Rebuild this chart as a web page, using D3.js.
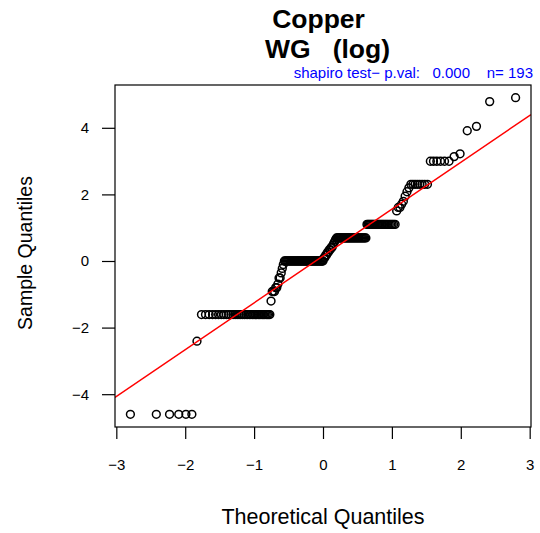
<!DOCTYPE html>
<html>
<head>
<meta charset="utf-8">
<script src="https://cdn.jsdelivr.net/npm/d3@7"></script>
<style>
  html, body { margin: 0; padding: 0; background: #fff; }
  svg { display: block; font-family: "Liberation Sans", Arial, Helvetica, sans-serif; }
  text { white-space: pre; }
</style>
</head>
<body>
<svg id="chart" width="540" height="533"></svg>
<script>
// ---- Data ----
const titleLines = ["Copper", "WG   (log)"];
const subtitle = "shapiro test\u2212 p.val:   0.000    n= 193";
const xLabel = "Theoretical Quantiles";
const yLabel = "Sample Quantiles";
const xTickValues = [-3, -2, -1, 0, 1, 2, 3];
const yTickValues = [-4, -2, 0, 2, 4];
// distinct sample values (log scale) and how many observations sit at each
const sampleLevels = [-4.605, -2.408, -1.609, -1.204, -0.916, -0.799, -0.693, -0.511, -0.357, -0.223, -0.105,
  0, 0.095, 0.182, 0.262, 0.336, 0.405, 0.470, 0.531, 0.588, 0.642, 0.693, 1.099,
  1.504, 1.609, 1.705, 1.792, 1.946, 2.079, 2.197, 2.303, 2.996, 3.135, 3.219, 3.912, 4.043, 4.787, 4.905];
const sampleCounts = [6, 1, 36, 1, 3, 2, 1, 2, 1, 1, 1,
  42, 2, 2, 2, 2, 2, 1, 1, 1, 1, 31, 23,
  1, 2, 1, 1, 1, 1, 1, 8, 6, 1, 1, 1, 1, 1, 1];

// ---- helpers ----
function qnorm(p) {
  const a = [-3.969683028665376e+01, 2.209460984245205e+02, -2.759285104469687e+02, 1.383577518672690e+02, -3.066479806614716e+01, 2.506628277459239e+00];
  const b = [-5.447609879822406e+01, 1.615858368580409e+02, -1.556989798598866e+02, 6.680131188771972e+01, -1.328068155288572e+01];
  const c = [-7.784894002430293e-03, -3.223964580411365e-01, -2.400758277161838e+00, -2.549732539343734e+00, 4.374664141464968e+00, 2.938163982698783e+00];
  const d = [7.784695709041462e-03, 3.224671290700398e-01, 2.445134137142996e+00, 3.754408661907416e+00];
  const pl = 0.02425, ph = 1 - pl;
  let q, r;
  if (p < pl) {
    q = Math.sqrt(-2 * Math.log(p));
    return (((((c[0]*q+c[1])*q+c[2])*q+c[3])*q+c[4])*q+c[5]) / ((((d[0]*q+d[1])*q+d[2])*q+d[3])*q+1);
  } else if (p <= ph) {
    q = p - 0.5; r = q * q;
    return (((((a[0]*r+a[1])*r+a[2])*r+a[3])*r+a[4])*r+a[5])*q / (((((b[0]*r+b[1])*r+b[2])*r+b[3])*r+b[4])*r+1);
  } else {
    q = Math.sqrt(-2 * Math.log(1 - p));
    return -(((((c[0]*q+c[1])*q+c[2])*q+c[3])*q+c[4])*q+c[5]) / ((((d[0]*q+d[1])*q+d[2])*q+d[3])*q+1);
  }
}

const sample = [];
sampleLevels.forEach((v, i) => { for (let k = 0; k < sampleCounts[i]; k++) sample.push(v); });
sample.sort((a, b) => a - b);
const n = sample.length;
// theoretical quantiles: qnorm(ppoints(n)), a = 0.5 for n > 10
const points = sample.map((y, i) => ({ x: qnorm((i + 1 - 0.5) / n), y }));

// ---- layout ----
const box = { left: 115, right: 531, top: 85, bottom: 427 };
const svg = d3.select("#chart");

function rExtend(ext) { const d = (ext[1] - ext[0]) * 0.04; return [ext[0] - d, ext[1] + d]; }
const x = d3.scaleLinear().domain(rExtend(d3.extent(points, p => p.x))).range([box.left, box.right]);
const y = d3.scaleLinear().domain(rExtend(d3.extent(points, p => p.y))).range([box.bottom, box.top]);

const fmt = v => (v < 0 ? "\u2212" + Math.abs(v) : String(v));

// clip
svg.append("defs").append("clipPath").attr("id", "clip")
  .append("rect").attr("x", box.left).attr("y", box.top)
  .attr("width", box.right - box.left).attr("height", box.bottom - box.top);

// points
svg.append("g").selectAll("circle").data(points).join("circle")
  .attr("cx", d => x(d.x)).attr("cy", d => y(d.y)).attr("r", 3.9)
  .attr("fill", "none").attr("stroke", "#000").attr("stroke-width", 1.5);

// qqline (R: through the quartiles)
const yq = [d3.quantile(sample, 0.25), d3.quantile(sample, 0.75)];
const xq = [qnorm(0.25), qnorm(0.75)];
const slope = (yq[1] - yq[0]) / (xq[1] - xq[0]);
const intercept = yq[0] - slope * xq[0];
const xd = x.domain();
svg.append("line").attr("clip-path", "url(#clip)")
  .attr("x1", x(xd[0])).attr("y1", y(intercept + slope * xd[0]))
  .attr("x2", x(xd[1])).attr("y2", y(intercept + slope * xd[1]))
  .attr("stroke", "#ff0000").attr("stroke-width", 1.5);

// box
svg.append("rect").attr("x", box.left).attr("y", box.top)
  .attr("width", box.right - box.left).attr("height", box.bottom - box.top)
  .attr("fill", "none").attr("stroke", "#000").attr("stroke-width", 1.2);

// axes
const xAxis = svg.append("g").attr("transform", `translate(0,${box.bottom})`)
  .call(d3.axisBottom(x).tickValues(xTickValues).tickFormat(fmt).tickSize(12).tickSizeOuter(0).tickPadding(20));
xAxis.select(".domain").remove();
xAxis.selectAll("line").attr("stroke", "#000").attr("stroke-width", 1.2);
xAxis.selectAll("text").attr("font-size", 15).attr("font-family", "Liberation Sans, Arial, sans-serif").attr("fill", "#000");

const yAxis = svg.append("g").attr("transform", `translate(${box.left},0)`)
  .call(d3.axisLeft(y).tickValues(yTickValues).tickFormat(fmt).tickSize(13).tickSizeOuter(0).tickPadding(13));
yAxis.select(".domain").remove();
yAxis.selectAll("line").attr("stroke", "#000").attr("stroke-width", 1.2);
yAxis.selectAll("text").attr("font-size", 15).attr("font-family", "Liberation Sans, Arial, sans-serif").attr("fill", "#000");

// titles
svg.append("text").attr("x", 318.5).attr("y", 28).attr("text-anchor", "middle")
  .attr("font-size", 26.5).attr("font-weight", "bold").text(titleLines[0]);
svg.append("text").attr("x", 327.5).attr("y", 58).attr("text-anchor", "middle")
  .attr("font-size", 26.5).attr("font-weight", "bold").text(titleLines[1]);
svg.append("text").attr("x", 533).attr("y", 78).attr("text-anchor", "end")
  .attr("font-size", 15).attr("fill", "#0000ff").text(subtitle);

svg.append("text").attr("x", (box.left + box.right) / 2).attr("y", 524).attr("text-anchor", "middle")
  .attr("font-size", 21.5).text(xLabel);
svg.append("text").attr("transform", `translate(32,${(box.top + box.bottom) / 2 - 3}) rotate(-90)`)
  .attr("text-anchor", "middle").attr("font-size", 19.5).text(yLabel);
</script>
</body>
</html>
